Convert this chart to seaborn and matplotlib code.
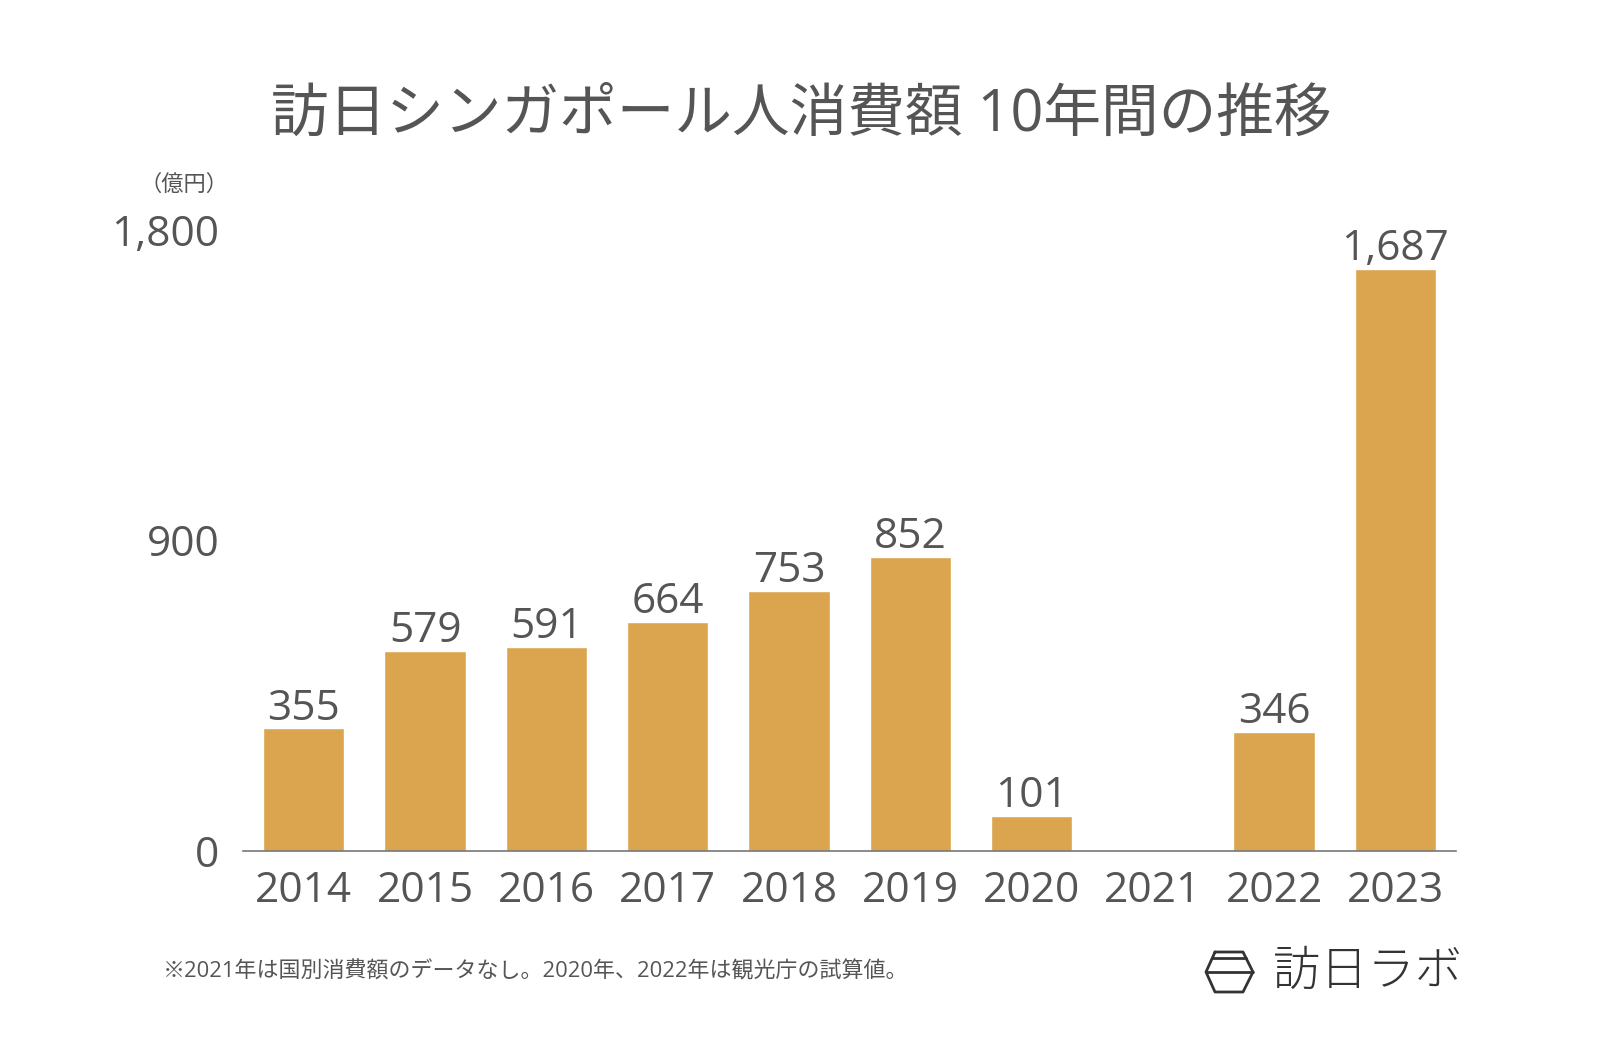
import numpy as np
import pandas as pd
import seaborn as sns
import matplotlib.pyplot as plt
from matplotlib.lines import Line2D

# data
years = ["2014", "2015", "2016", "2017", "2018", "2019", "2020", "2021", "2022", "2023"]
spending = [355, 579, 591, 664, 753, 852, 101, np.nan, 346, 1687]
yticks = [0, 900, 1800]
ytick_labels = ["0", "900", "1,800"]

title = "訪日シンガポール人消費額 10年間の推移"
unit = "（億円）"
note = "※2021年は国別消費額のデータなし。2020年、2022年は観光庁の試算値。"

BAR = "#DBA44F"
TXT = "#555555"

sns.set_style("white")
# latin digits from Open Sans, Japanese falls back to Noto CJK
plt.rcParams["font.family"] = ["Open Sans", "Noto Sans CJK JP", "DejaVu Sans"]

df = pd.DataFrame({"year": years, "value": spending})

fig = plt.figure(figsize=(16, 10.48), dpi=100)
ax = fig.add_axes([0.152, 0.188, 0.758, 0.593])

sns.barplot(data=df, x="year", y="value", order=years, color=BAR,
            saturation=1, width=0.67, ax=ax)

for i, v in enumerate(spending):
    if pd.notna(v):
        ax.annotate(f"{int(v):,}", (i, v), xytext=(0, -1), textcoords="offset points",
                    ha="center", va="bottom", fontsize=30.5, color=TXT,
                    annotation_clip=False)

ax.set_xlim(-0.5, 9.5)
ax.set_ylim(0, 1800)
ax.set_yticks(yticks)
ax.set_yticklabels(ytick_labels)
ax.tick_params(axis="both", length=0, labelsize=30.5, labelcolor=TXT)
ax.tick_params(axis="y", pad=17)
ax.tick_params(axis="x", pad=14)
ax.set_xlabel("")
ax.set_ylabel("")
for s in ["top", "right", "left"]:
    ax.spines[s].set_visible(False)
ax.spines["bottom"].set_color("#777777")
ax.spines["bottom"].set_linewidth(1.2)

fig.text(0.5005, 0.89, title, ha="center", va="center", fontsize=41.5, color=TXT)
fig.text(0.115, 0.823, unit, ha="center", va="center", fontsize=16, color=TXT)
fig.text(0.102, 0.073, note, ha="left", va="center", fontsize=15.8, color=TXT)

# logo
W, H = 1600, 1048
def px(x, y):
    return x / W, 1 - y / H

hexagon = [(1215, 952), (1243, 952), (1253, 972), (1243, 992), (1215, 992), (1206, 972), (1215, 952)]
xs, ys = zip(*[px(*p) for p in hexagon])
fig.add_artist(Line2D(xs, ys, color="#333333", lw=2))
for y, x0, x1 in [(958, 1212, 1246), (972, 1206, 1253)]:
    (a, b), (c, d) = px(x0, y), px(x1, y)
    fig.add_artist(Line2D([a, c], [b, d], color="#333333", lw=2))
fig.text(1273 / W, 1 - 971 / H, "訪日ラボ", ha="left", va="center", fontsize=34,
         color="#333333", fontweight="light", family="Noto Sans CJK JP")

fig.savefig("out.png", dpi=100, facecolor="white")
